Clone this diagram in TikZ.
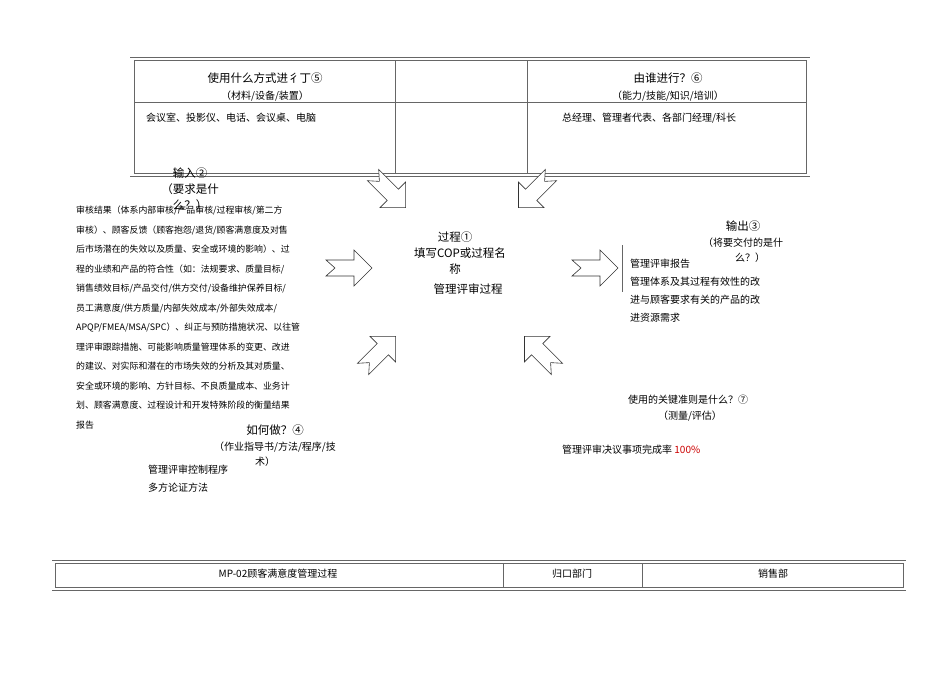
\documentclass[tikz,border=0pt]{standalone}
\usepackage{fontspec}
\setmainfont{Noto Sans CJK SC}
\begin{document}
\begin{tikzpicture}[x=1pt,y=-1pt,
  ln/.style={draw=black!60,line width=0.6pt},
  big/.style={font=\fontsize{11.5}{14}\selectfont,inner sep=0pt},
  med/.style={font=\fontsize{10}{14}\selectfont,inner sep=0pt},
  sml/.style={font=\fontsize{8.9}{19.5}\selectfont,inner sep=0pt,align=left,anchor=north west},
  arr/.style={draw=black!80,line width=0.6pt,fill=white}]
\useasboundingbox (0,0) rectangle (950,672);
% top table
\draw[ln] (130,57) -- (810,57);
\draw[ln] (134,60) rectangle (806,173);
\draw[ln] (130,176) -- (810,176);
\draw[ln] (134,102) -- (806,102);
\draw[ln] (395,60) -- (395,173);
\draw[ln] (527,60) -- (527,173);
\node[big] (t5) at (265,78) {使用什么方式进彳丁⑤};
\node[med] (t5b) at (265,96) {（材料/设备/装置）};
\node[med,anchor=west] (t5c) at (146,118) {会议室、投影仪、电话、会议桌、电脑};
\node[big] (t6) at (668,78) {由谁进行？⑥};
\node[med] (t6b) at (668,96) {（能力/技能/知识/培训）};
\node[med,anchor=west] (t6c) at (562,118) {总经理、管理者代表、各部门经理/科长};
% arrows
\foreach \cx/\cy/\r in {390/192/-45, 534/192/-135, 350/268/0, 596/268/0, 380/352/45, 540/352/135}{
  \begin{scope}[shift={(\cx,\cy)},rotate=\r]
  \draw[arr] (-24,-8) -- (4,-8) -- (4,-18) -- (22,0) -- (4,18) -- (4,8) -- (-24,8) -- (-15,0) -- cycle;
  \end{scope}}
% input
\node[big] (in1) at (190,173) {输入②};
\node[big] (in2) at (190,189) {（要求是什};
\node[big] (in3) at (190,205) {么？）};
\node[sml] (intext) at (76,206) {审核结果（体系内部审核/产品审核/过程审核/第二方\\审核）、顾客反馈（顾客抱怨/退货/顾客满意度及对售\\后市场潜在的失效以及质量、安全或环境的影响）、过\\程的业绩和产品的符合性（如：法规要求、质量目标/\\销售绩效目标/产品交付/供方交付/设备维护保养目标/\\员工满意度/供方质量/内部失效成本/外部失效成本/\\APQP/FMEA/MSA/SPC）、纠正与预防措施状况、以往管\\理评审跟踪措施、可能影响质量管理体系的变更、改进\\的建议、对实际和潜在的市场失效的分析及其对质量、\\安全或环境的影响、方针目标、不良质量成本、业务计\\划、顾客满意度、过程设计和开发特殊阶段的衡量结果\\报告};
% process
\node[big] (p1) at (455,237) {过程①};
\node[big] (p2) at (460,253) {填写COP或过程名};
\node[big] (p3) at (455,269) {称};
\node[big] (p4) at (468,289) {管理评审过程};
% output
\node[big] (o1) at (743,226) {输出③};
\node[med] (o2) at (743,243) {（将要交付的是什};
\node[med] (o3) at (750,258) {么？）};
\draw[ln] (622,245) -- (622,292);
\node[med,anchor=north west,align=left,font=\fontsize{10}{18}\selectfont] (otext) at (630,259) {管理评审报告\\管理体系及其过程有效性的改\\进与顾客要求有关的产品的改\\进资源需求};
% criteria
\node[med] (c1) at (688,400) {使用的关键准则是什么？⑦};
\node[med] (c2) at (690,416) {（测量/评估）};
\node[med,anchor=west] (c3) at (562,450) {管理评审决议事项完成率 \textcolor{red!80!black}{100\%}};
% how
\node[big] (h1) at (275,430) {如何做？④};
\node[med] (h2) at (275,447) {（作业指导书/方法/程序/技};
\node[med] (h3) at (265,462) {术）};
\node[med,anchor=west] (h4) at (148,470) {管理评审控制程序};
\node[med,anchor=west] (h5) at (148,488) {多方论证方法};
% bottom table
\draw[ln] (52,560) -- (906,560);
\draw[ln] (55,563) rectangle (903,587);
\draw[ln] (52,590) -- (906,590);
\draw[ln] (503,563) -- (503,587);
\draw[ln] (642,563) -- (642,587);
\node[med] (b1) at (278,574) {MP-02顾客满意度管理过程};
\node[med] (b2) at (572,574) {归口部门};
\node[med] (b3) at (773,574) {销售部};
\end{tikzpicture}
\end{document}
